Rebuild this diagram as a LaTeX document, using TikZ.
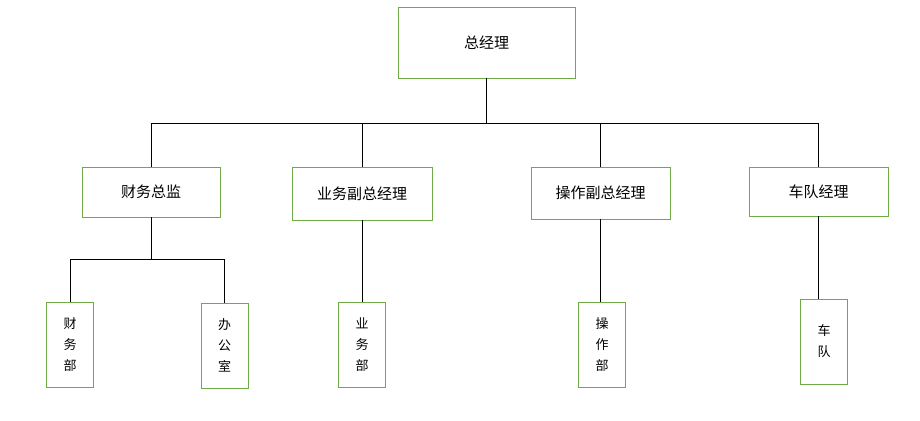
\documentclass[tikz,border=0pt]{standalone}
\usepackage{fontspec}
\setmainfont{Noto Sans CJK SC}
\definecolor{boxgreen}{RGB}{110,170,70}
\tikzset{
  bignode/.style = {draw=boxgreen, thick, align=center, inner sep=0pt,
    font=\fontsize{15}{17}\selectfont},
  smallnode/.style = {draw=boxgreen, thick, align=center, inner sep=0pt,
    minimum width=47pt, minimum height=85pt, font=\fontsize{13}{21}\selectfont},
  link/.style = {draw=black, thick}
}
\begin{document}
\begin{tikzpicture}[x=1pt,y=-1pt]
  \useasboundingbox (0,0) rectangle (920,420);
  % top level
  \node [bignode, minimum width=177pt, minimum height=71pt] (gm) at (486.5,42.5) {总经理};
  % second level
  \node [bignode, minimum width=138pt, minimum height=50pt] (cfo) at (151,192) {财务总监};
  \node [bignode, minimum width=140pt, minimum height=53pt] (bvp) at (362,193.5) {业务副总经理};
  \node [bignode, minimum width=139pt, minimum height=52pt] (ovp) at (600.5,193) {操作副总经理};
  \node [bignode, minimum width=139pt, minimum height=49pt] (fleet) at (818.5,191.5) {车队经理};
  % third level
  \node [smallnode] (fin) at (70,344.5) {财\\务\\部};
  \node [smallnode] (off) at (224.5,345.5) {办\\公\\室};
  \node [smallnode] (biz) at (362,345) {业\\务\\部};
  \node [smallnode] (ops) at (602,345) {操\\作\\部};
  \node [smallnode] (team) at (824,341.5) {车\\队};
  % connectors
  \coordinate (gmj) at (486.5,123);
  \draw [link] (gm.south) -- (gmj);
  \foreach \n in {cfo,bvp,ovp,fleet}
    \draw [link] (gmj) -| (\n.north);
  \coordinate (cfoj) at (151,259);
  \draw [link] (cfo.south) -- (cfoj);
  \foreach \n in {fin,off}
    \draw [link] (cfoj) -| (\n.north);
  \draw [link] (bvp.south) -- (biz.north);
  \draw [link] (ovp.south) -- (ovp.south |- ops.north);
  \draw [link] (fleet.south) -- (fleet.south |- team.north);
\end{tikzpicture}
\end{document}
